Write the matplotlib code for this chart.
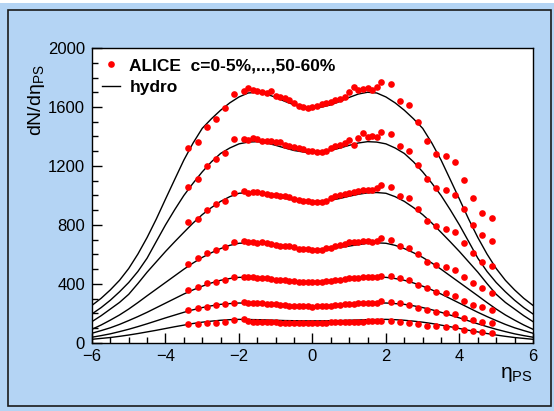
import numpy as np
import matplotlib.pyplot as plt
from matplotlib.lines import Line2D
from matplotlib.patches import Rectangle
from matplotlib.ticker import MultipleLocator

plt.rcParams['font.family'] = ['Liberation Sans', 'DejaVu Sans']
plt.rcParams['mathtext.fontset'] = 'custom'
plt.rcParams['mathtext.rm'] = 'Liberation Sans'
plt.rcParams['mathtext.it'] = 'Liberation Sans:italic'

# ALICE points: forward bins on both sides (0.25 wide) and the finer central bins
eta_left = [-3.375, -3.125, -2.875, -2.625, -2.375, -2.125]
eta_mid = list(np.arange(-1.875, 1.876, 0.125))
eta_right = [2.125, 2.375, 2.625, 2.875, 3.125, 3.375, 3.625, 3.875, 4.125, 4.375, 4.625, 4.875]
eta_data = eta_left + eta_mid + eta_right

# dN/deta for c = 0-5%, 5-10%, 10-20%, 20-30%, 30-40%, 40-50%, 50-60%
alice_0_5 = [1320, 1365, 1467, 1517, 1591, 1688,
             1708, 1731, 1715, 1708, 1699, 1693, 1708, 1675, 1666, 1659, 1647, 1629, 1610, 1598, 1595, 1598,
             1610, 1620, 1630, 1636, 1645, 1655, 1668, 1700, 1738, 1718, 1725, 1731, 1715, 1738, 1767,
             1754, 1641, 1614, 1500, 1369, 1281, 1268, 1229, 1105, 985, 883, 845]
alice_5_10 = [1060, 1112, 1202, 1247, 1286, 1383,
              1383, 1376, 1388, 1381, 1372, 1370, 1369, 1365, 1362, 1342, 1338, 1331, 1324, 1312, 1305, 1302,
              1297, 1297, 1302, 1320, 1333, 1345, 1354, 1376, 1342, 1392, 1422, 1399, 1406, 1397, 1433,
              1417, 1335, 1302, 1207, 1112, 1052, 1040, 1003, 906, 800, 732, 692]
alice_10_20 = [818, 841, 902, 940, 963, 1019,
               1030, 1019, 1026, 1026, 1018, 1012, 1005, 1000, 997, 996, 990, 976, 968, 965, 962, 955,
               954, 958, 965, 980, 995, 1000, 1008, 1015, 1026, 1033, 1037, 1035, 1040, 1049, 1071,
               1060, 997, 981, 906, 827, 795, 771, 755, 680, 612, 547, 524]
alice_20_30 = [536, 574, 612, 631, 653, 687,
               692, 683, 683, 680, 687, 676, 670, 665, 660, 658, 656, 649, 640, 636, 634, 631,
               631, 632, 642, 646, 658, 664, 672, 687, 683, 687, 690, 694, 687, 692, 710,
               698, 658, 642, 603, 551, 529, 513, 495, 450, 405, 371, 341]
alice_30_40 = [359, 377, 409, 416, 427, 450,
               450, 447, 445, 443, 441, 439, 434, 430, 427, 424, 421, 418, 416, 414, 413, 412,
               414, 416, 418, 423, 427, 429, 434, 438, 440, 443, 446, 445, 448, 448, 455,
               452, 441, 427, 390, 371, 348, 337, 321, 287, 258, 242, 224]
alice_40_50 = [224, 235, 246, 258, 264, 273,
               275, 273, 272, 270, 268, 266, 263, 262, 258, 256, 254, 252, 250, 249, 248, 247,
               248, 250, 251, 253, 256, 258, 261, 263, 265, 268, 270, 272, 273, 272, 282,
               278, 268, 257, 236, 222, 212, 201, 195, 172, 156, 145, 138]
alice_50_60 = [126, 129, 135, 138, 145, 156,
               161, 150, 145, 143, 141, 140, 140, 139, 138, 138, 137, 137, 136, 136, 136, 136,
               136, 137, 138, 139, 139, 141, 142, 143, 143, 144, 145, 146, 147, 148, 151,
               151, 145, 138, 129, 118, 116, 108, 106, 91, 83, 75, 66]
alice = [alice_0_5, alice_5_10, alice_10_20, alice_20_30, alice_30_40, alice_40_50, alice_50_60]

# hydro curves, symmetric in eta: values at |eta| = 0, 0.25, ..., 6
eta_hydro_half = [0, 0.25, 0.5, 0.75, 1, 1.25, 1.5, 1.75, 2, 2.25, 2.5, 2.75, 3,
                  3.25, 3.5, 3.75, 4, 4.25, 4.5, 4.75, 5, 5.25, 5.5, 5.75, 6]
hydro_0_5 = [1595, 1600, 1615, 1638, 1665, 1688, 1700, 1695, 1668, 1628, 1578, 1520, 1455,
             1355, 1240, 1108, 975, 840, 715, 603, 505, 425, 360, 303, 255]
hydro_5_10 = [1290, 1295, 1305, 1322, 1340, 1356, 1365, 1362, 1350, 1322, 1285, 1228, 1160,
              1083, 1000, 903, 800, 688, 575, 485, 410, 347, 290, 240, 197]
hydro_10_20 = [958, 961, 968, 980, 995, 1008, 1018, 1020, 1015, 992, 960, 918, 870,
               813, 750, 686, 620, 550, 480, 403, 330, 275, 230, 185, 145]
hydro_20_30 = [632, 634, 640, 648, 657, 667, 676, 679, 676, 662, 640, 612, 580,
               542, 500, 455, 410, 365, 320, 274, 230, 190, 155, 122, 93]
hydro_30_40 = [410, 412, 416, 422, 428, 435, 442, 445, 445, 437, 425, 407, 385,
               360, 332, 301, 270, 239, 208, 179, 152, 126, 103, 84, 66]
hydro_40_50 = [248, 249, 251, 255, 259, 264, 268, 270, 271, 267, 262, 252, 240,
               225, 208, 189, 170, 150, 130, 111, 93, 77, 62, 50, 39]
hydro_50_60 = [150, 150, 151, 152, 154, 156, 158, 159, 160, 158, 154, 148, 141,
               132, 121, 110, 98, 86, 75, 64, 54, 45, 37, 31, 25]
hydro_half = [hydro_0_5, hydro_5_10, hydro_10_20, hydro_20_30, hydro_30_40, hydro_40_50, hydro_50_60]

bg = '#b4d4f4'
fig = plt.figure(figsize=(5.54, 4.11), dpi=100, facecolor=bg)
ax = fig.add_axes([0.166, 0.1655, 0.796, 0.7177])
ax.set_facecolor('white')

eta_h = [-e for e in eta_hydro_half[:0:-1]] + eta_hydro_half
for h in hydro_half:
    ax.plot(eta_h, h[:0:-1] + h, color='black', lw=1.0, zorder=2)

for d in alice:
    ax.plot(eta_data, d, 'o', color='red', ms=4.8, mew=0, zorder=3)

ax.set_xlim(-6, 6)
ax.set_ylim(0, 2000)
ax.set_xticks(range(-6, 7, 2))
ax.set_yticks(range(0, 2001, 400))
ax.xaxis.set_minor_locator(MultipleLocator(0.5))
ax.yaxis.set_minor_locator(MultipleLocator(100))
ax.tick_params(which='both', direction='in', top=False, right=False, width=1)
ax.tick_params(which='major', length=7, labelsize=12)
ax.tick_params(which='minor', length=4)
ax.tick_params(axis='y', pad=5)
ax.tick_params(axis='x', pad=4)
for s in ax.spines.values():
    s.set_linewidth(1.0)

ax.text(-0.125, 0.945, 'dN/dη$_{\\mathregular{PS}}$', rotation=90, ha='center', va='top',
        fontsize=14, transform=ax.transAxes)
ax.text(1.0, -0.075, 'η$_{\\mathregular{PS}}$', ha='right', va='top', fontsize=15,
        transform=ax.transAxes)

handles = [Line2D([], [], ls='none', marker='o', color='red', ms=4.8, mew=0),
           Line2D([], [], color='black', lw=1.0)]
ax.legend(handles, ['ALICE  c=0-5%,...,50-60%', 'hydro'], loc='upper left',
          frameon=False, prop={'weight': 'bold', 'size': 12.5}, handlelength=1.0,
          handletextpad=0.55, labelspacing=0.35, borderaxespad=0.35, borderpad=0.25)

fig.patches.append(Rectangle((8 / 554, 5 / 411), 543 / 554, 396 / 411, transform=fig.transFigure,
                             fill=False, edgecolor='#1a1a1a', lw=1.2))
fig.patches.append(Rectangle((0, 408 / 411), 1, 3 / 411, transform=fig.transFigure,
                             facecolor='white', edgecolor='none'))

fig.savefig('out.png', dpi=100, facecolor=bg)
